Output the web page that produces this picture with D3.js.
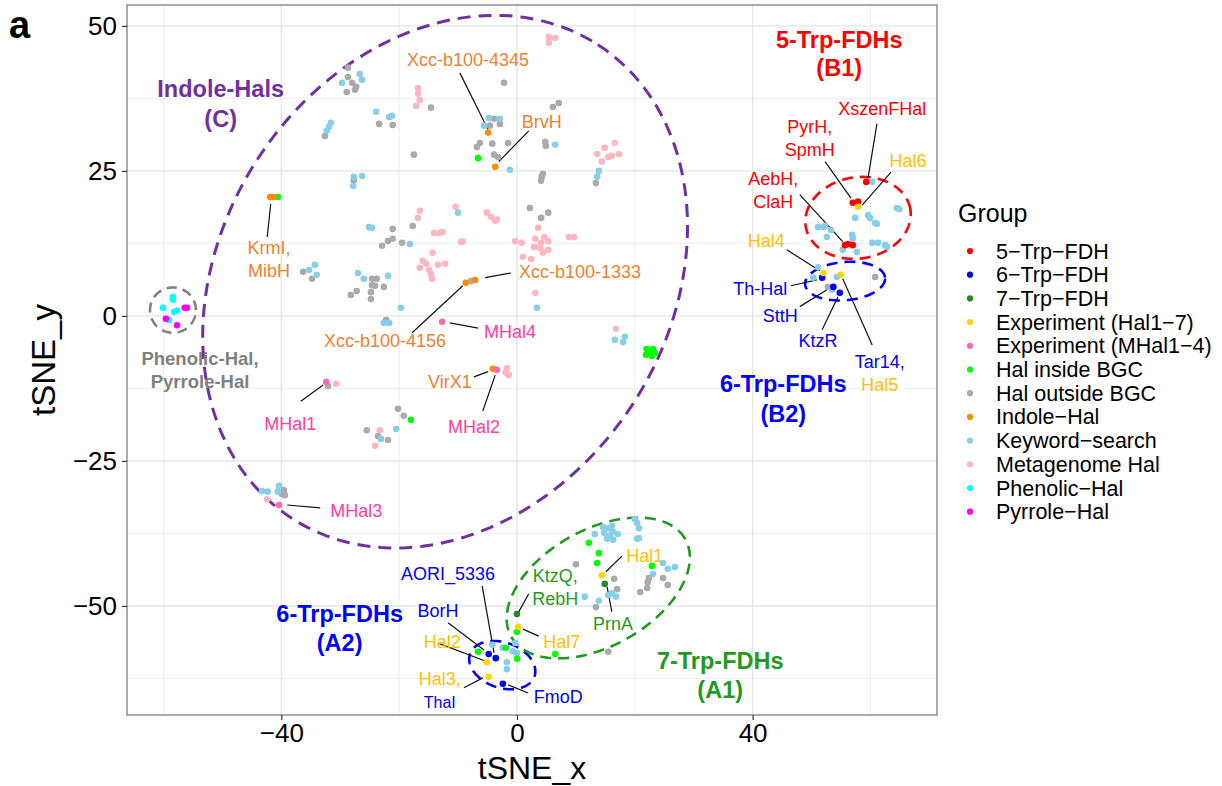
<!DOCTYPE html>
<html>
<head>
<meta charset="utf-8">
<script src="https://cdn.jsdelivr.net/npm/d3@7"></script>
<style>
  body { margin: 0; background: #fff; }
  svg { display: block; font-family: "Liberation Sans", Arial, sans-serif; }
</style>
</head>
<body>
<svg id="chart" width="1222" height="786"></svg>
<script>
// ---- data (tSNE coordinates) ----
const groupNames = ["5−Trp−FDH", "6−Trp−FDH", "7−Trp−FDH", "Experiment (Hal1−7)", "Experiment (MHal1−4)",
  "Hal inside BGC", "Hal outside BGC", "Indole−Hal", "Keyword−search", "Metagenome Hal", "Phenolic−Hal", "Pyrrole−Hal"];
const groupColors = ["#FF0000", "#0000FF", "#228B22", "#FFD700", "#FF69B4",
  "#00FF00", "#AAAAAA", "#FF8C00", "#87CEEB", "#FFB6C1", "#00FFFF", "#FF00FF"];

const fdh5 = [[59.3,23.1],[57.0,19.5],[57.9,19.7],[55.7,12.2],[56.2,12.4],[57.0,12.2]];
const fdh6 = [[51.8,6.6],[53.7,5.0],[54.8,4.0],[-4.8,-58.3],[-3.6,-59.0],[-2.4,-63.4]];
const fdh7 = [[0.0,-51.4],[14.9,-46.2]];
const expHal = [[57.9,18.8],[52.0,7.4],[55.0,7.1],[14.4,-44.7],[0.2,-53.6],[-5.1,-59.7],[-4.8,-62.2]];
const expMHal = [[-12.7,-1.0],[-3.4,-9.3],[-32.4,-11.4],[-40.4,-32.6]];
const halInside = [[-40.6,20.5],[-6.6,27.2],[22.0,-5.7],[23.1,-5.7],[23.4,-6.4],[22.9,-6.9],
  [21.9,-6.7],[22.4,-6.2],[-18.0,-17.9],[12.2,-39.1],[13.9,-40.9],[13.6,-42.6],[22.9,-43.1],
  [0.0,-54.5],[6.5,-58.3],[-6.6,-57.9],[-1.9,-57.2],[0.0,-59.1]];
const halOutside = [
  [-28.7,42.8],[-28.7,41.2],[-28.0,40.2],[-28.9,38.6],[-27.5,39.0],[-27.3,39.5],
  [-23.4,33.1],[-21.1,32.9],[-32.6,31.0],[-17.5,27.8],[-27.7,23.4],
  [-21.1,15.0],[-17.7,15.5],[-22.9,12.1],[-21.9,12.9],[-21.1,13.3],[-19.5,12.6],
  [-36.3,7.6],[-34.8,6.4],[-24.6,6.4],[-23.8,6.4],[-24.6,5.3],[-24.1,5.2],[-27.2,4.3],
  [-28.2,3.6],[-24.8,4.1],[-24.8,2.9],[-22.6,5.0],[-22.2,-0.7],
  [-6.8,29.1],[-6.3,29.8],[-4.2,29.7],[-1.5,29.8],[-3.9,27.8],[-3.2,27.4],
  [-3.9,34.0],[-2.9,33.1],[-4.6,32.8],[-2.2,40.2],[-14.6,35.9],[6.1,36.0],[7.1,36.7],
  [4.8,30.0],[4.9,29.3],[4.4,24.5],[4.2,24.0],[4.1,23.3],[13.4,22.9],
  [2.2,18.6],[5.3,17.8],[4.1,16.9],[-7.8,6.0],
  [-32.1,-12.1],[-20.2,-16.0],[-19.2,-17.2],[-25.5,-19.7],[-23.6,-20.7],[-21.9,-21.4],
  [-39.6,-30.0],[-39.4,-30.9],[-39.9,-30.7],
  [52.8,5.0],[60.8,6.7],
  [10.0,-42.8],[16.5,-45.3],[17.0,-47.1],[20.9,-47.6],[22.1,-46.9],[22.2,-45.9],[22.4,-45.2],
  [24.8,-45.2],[25.6,-46.4],[13.4,-50.2],[15.5,-57.9]];
const indole = [[-41.9,20.5],[-41.3,20.5],[-4.9,31.6],[-3.7,25.7],[-8.7,5.7],[-7.1,6.2],[-4.1,-9.1]];
const keyword = [
  [-29.7,40.2],[-26.7,41.7],[-26.3,40.7],[-23.9,35.2],[-21.7,34.3],[-21.2,34.5],
  [-31.6,33.3],[-31.9,32.6],[-32.3,31.9],[-4.8,34.1],[-2.9,34.0],[-5.6,32.8],[6.5,29.5],
  [-1.2,25.2],[13.9,25.0],[13.6,24.0],[-27.7,24.0],[-26.3,24.1],[-27.8,22.4],
  [-10.0,17.8],[-25.1,15.3],[-24.6,15.2],[-18.2,12.4],
  [-34.3,8.8],[-35.3,7.9],[-34.0,7.1],[-27.0,7.4],[-26.0,6.4],[-21.9,6.9],
  [-19.7,1.4],[-22.6,-1.2],[-21.7,-1.2],[3.4,1.4],[16.6,-4.1],[18.0,-4.5],[18.3,-3.6],
  [-20.5,-19.5],[-23.1,-21.2],[-43.3,-30.2],[-42.3,-30.3],[-40.4,-29.3],[-40.6,-30.3],
  [60.3,23.1],[57.4,16.9],[59.6,17.4],[59.9,16.9],[60.8,16.0],[61.1,15.9],[64.5,18.6],[64.9,18.4],
  [51.1,15.3],[52.0,15.3],[52.3,15.5],[53.3,14.8],[52.6,13.6],[56.9,14.0],[57.0,13.4],
  [55.3,11.4],[57.7,11.0],[60.3,12.6],[61.3,12.6],[62.5,12.2],[62.8,11.9],
  [51.1,8.4],[50.3,6.6],[54.3,6.7],[53.5,4.5],
  [13.2,-37.6],[14.8,-37.4],[14.6,-36.4],[15.5,-36.6],[16.1,-36.2],[16.3,-37.2],[15.8,-37.8],
  [17.1,-37.6],[15.3,-38.4],[16.3,-38.6],[20.0,-35.0],[20.4,-35.7],[20.7,-36.6],[20.7,-38.3],
  [20.4,-38.4],[24.8,-42.6],[25.6,-43.6],[26.8,-43.3],[23.1,-44.5],[16.1,-47.8],[16.8,-48.4],
  [15.5,-48.1],[13.9,-49.1],[11.5,-48.4],
  [-4.2,-56.7],[-1.7,-59.7],[-0.7,-57.8],[0.0,-58.1],[-0.3,-56.4],[-1.7,-60.9],[-2.4,-57.2]];
const metagenome = [
  [5.4,48.1],[6.5,47.9],[5.4,47.1],[-16.8,39.3],[-16.8,38.3],[-16.5,37.2],[-17.1,36.2],
  [13.6,27.9],[14.9,29.0],[16.6,29.8],[17.3,27.9],[16.1,27.6],[15.5,27.4],[14.4,26.6],
  [-16.5,18.1],[-16.8,16.9],[-10.4,18.8],[-5.1,17.8],[-4.4,17.1],[-3.4,16.6],[-3.7,16.4],
  [-14.1,14.3],[-13.2,14.3],[-12.6,14.5],[-9.2,12.8],[-9.5,12.8],
  [3.6,15.2],[-0.3,12.9],[0.8,12.6],[3.1,13.3],[4.6,13.6],[5.3,12.9],[4.1,12.6],[2.9,11.9],
  [3.9,11.7],[5.3,11.4],[4.4,10.9],[1.0,10.2],[2.4,9.8],[8.8,13.6],[9.7,13.6],
  [-14.3,10.9],[-16.0,9.5],[-15.4,9.0],[-16.5,8.3],[-14.9,7.9],[-14.6,7.2],[-14.4,6.4],
  [-13.4,8.8],[-12.2,9.0],[3.1,4.0],[16.8,-2.2],[-1.7,-9.0],[-1.4,-10.2],[-1.9,-9.7],
  [-30.7,-11.7],[-23.3,-19.7],[-24.1,-22.4],[-42.4,-31.6]];
const phenolic = [[-58.4,3.3],[-58.4,2.8],[-60.1,1.4],[-58.2,0.7],[-57.7,0.9],[-59.1,-0.7]];
const pyrrole = [[-56.4,1.4],[-56.0,1.4],[-59.6,-0.5],[-57.7,-1.6]];

const groupPoints = [fdh5, fdh6, fdh7, expHal, expMHal, halInside, halOutside, indole, keyword, metagenome, phenolic, pyrrole];
const drawOrder = [6, 9, 8, 10, 11, 5, 7, 0, 1, 2, 3, 4];

const xTicks = [-40, 0, 40];
const yTicks = [-50, -25, 0, 25, 50];

// ellipses: centre, semi axes, rotation (deg)
const ellipses = [
  { cx: -12.2, cy: 5.9, a: 48.4, b: 38.2, rot: 59, color: "#7030A0", w: 3, dash: "13,8" },
  { cx: 57.9, cy: 16.9, a: 9.0, b: 7.0, rot: 10, color: "#FF0000", w: 2.6, dash: "11,7" },
  { cx: 55.7, cy: 6.0, a: 6.8, b: 3.3, rot: 5, color: "#0000FF", w: 2.6, dash: "11,7" },
  { cx: -58.4, cy: 1.0, a: 3.9, b: 3.9, rot: 0, color: "#808080", w: 2.6, dash: "10,6" },
  { cx: -2.5, cy: -60.2, a: 5.8, b: 3.9, rot: -20, color: "#0000FF", w: 2.6, dash: "11,7" },
  { cx: 13.8, cy: -46.9, a: 17.0, b: 10.0, rot: 30, color: "#1F9A1F", w: 2.6, dash: "11,7" }
];

const orange = "#F07F2F", gold = "#FFC000", hot = "#FF40A0", red = "#FF0000", blue = "#0000FF", green = "#1F9A1F";

const pointLabels = [
  { lines: [["Xcc-b100-4345", orange]], x: -8.3, y: 43.1, seg: [-9.7, 41.9, -4.9, 32.1] },
  { lines: [["BrvH", orange]], x: 4.2, y: 32.4, seg: [2.0, 31.9, -3.1, 26.6] },
  { lines: [["KrmI,", orange], ["MibH", orange]], x: -42.1, y: 10.7, seg: [-41.8, 19.3, -42.4, 13.6] },
  { lines: [["Xcc-b100-1333", orange]], x: 10.7, y: 6.6, seg: [-5.4, 6.6, -1.0, 7.4] },
  { lines: [["Xcc-b100-4156", orange]], x: -22.4, y: -5.3, seg: [-17.8, -2.9, -9.2, 5.2] },
  { lines: [["MHal4", hot]], x: -1.2, y: -3.8, seg: [-11.4, -1.2, -6.6, -2.1] },
  { lines: [["VirX1", orange]], x: -11.4, y: -12.4, seg: [-7.3, -10.5, -4.9, -9.6] },
  { lines: [["MHal2", hot]], x: -7.3, y: -20.2, seg: [-5.8, -16.4, -3.7, -10.2] },
  { lines: [["MHal1", hot]], x: -38.5, y: -19.7, seg: [-36.7, -14.7, -32.9, -11.9] },
  { lines: [["MHal3", hot]], x: -27.3, y: -34.7, seg: [-39.0, -32.6, -33.4, -33.1] },
  { lines: [["XszenFHal", red]], x: 62.0, y: 34.7, seg: [61.1, 33.1, 59.6, 23.8] },
  { lines: [["PyrH,", red], ["SpmH", red]], x: 49.7, y: 31.6, seg: [52.3, 26.6, 56.7, 20.3] },
  { lines: [["Hal6", gold]], x: 66.4, y: 25.7, seg: [63.5, 24.8, 58.6, 19.1] },
  { lines: [["AebH,", red], ["ClaH", red]], x: 43.5, y: 22.6, seg: [48.0, 20.9, 55.3, 12.8] },
  { lines: [["Hal4", gold]], x: 42.3, y: 11.9, seg: [45.8, 11.4, 51.4, 7.8] },
  { lines: [["Th-Hal", blue]], x: 41.3, y: 3.6, seg: [46.5, 5.2, 50.9, 6.2] },
  { lines: [["SttH", blue]], x: 44.7, y: -1.0, seg: [48.0, 1.6, 53.1, 4.8] },
  { lines: [["KtzR", blue]], x: 51.1, y: -5.3, seg: [51.8, -2.4, 54.5, 3.3] },
  { lines: [["Tar14,", blue], ["Hal5", gold]], x: 61.6, y: -9.0, seg: [60.3, -5.0, 55.3, 6.4] },
  { lines: [["AORI_5336", blue]], x: -11.7, y: -45.5, seg: [-5.9, -46.6, -3.9, -58.1] },
  { lines: [["BorH", blue]], x: -13.4, y: -51.9, seg: [-11.7, -52.9, -5.6, -57.6] },
  { lines: [["Hal2", gold]], x: -12.7, y: -57.2, seg: [-13.4, -56.4, -5.4, -59.5] },
  { lines: [["Hal3,", gold], ["ThaI", blue, 16]], x: -13.1, y: -63.6, seg: [-9.0, -64.1, -5.8, -62.4] },
  { lines: [["FmoD", blue]], x: 7.0, y: -66.7, seg: [1.9, -65.0, -1.5, -63.6] },
  { lines: [["KtzQ,", green], ["RebH", green]], x: 6.5, y: -45.9, seg: [2.0, -47.9, 0.2, -51.2] },
  { lines: [["Hal7", gold]], x: 7.6, y: -57.2, seg: [3.7, -55.2, 1.0, -54.0] },
  { lines: [["Hal1", gold]], x: 21.7, y: -42.4, seg: [17.8, -41.4, 15.1, -44.1] },
  { lines: [["PrnA", green]], x: 16.3, y: -54.1, seg: [16.1, -51.0, 15.3, -46.7] }
];

const groupLabels = [
  { lines: ["Indole-Hals", "(C)"], color: "#7030A0", x: -50.3, y: 37.8, size: 23.5, lh: 30 },
  { lines: ["5-Trp-FDHs", "(B1)"], color: "#FF0000", x: 54.7, y: 46.2, size: 23.5, lh: 28 },
  { lines: ["6-Trp-FDHs", "(B2)"], color: "#0000FF", x: 45.2, y: -13.1, size: 23.5, lh: 30 },
  { lines: ["6-Trp-FDHs", "(A2)"], color: "#0000FF", x: -30.1, y: -52.8, size: 23.5, lh: 29 },
  { lines: ["7-Trp-FDHs", "(A1)"], color: "#1F9A1F", x: 34.5, y: -60.9, size: 23.5, lh: 29 },
  { lines: ["Phenolic-Hal,", "Pyrrole-Hal"], color: "#7F7F7F", x: -53.8, y: -8.4, size: 18.5, lh: 23 }
];

// ---- layout ----
const svg = d3.select("#chart");
const panel = { left: 127, top: 5, right: 937, bottom: 715 };
const x = d3.scaleLinear().domain([-66.2, 71.3]).range([panel.left, panel.right]);
const y = d3.scaleLinear().domain([-68.8, 53.6]).range([panel.bottom, panel.top]);
const minus = d => d < 0 ? "\u2212" + Math.abs(d) : "" + d;

svg.append("defs").append("clipPath").attr("id", "clip")
  .append("rect").attr("x", panel.left).attr("y", panel.top)
  .attr("width", panel.right - panel.left).attr("height", panel.bottom - panel.top);

svg.append("rect").attr("x", panel.left).attr("y", panel.top)
  .attr("width", panel.right - panel.left).attr("height", panel.bottom - panel.top)
  .attr("fill", "#fff");

// grid
const xMinor = [-60, -20, 20, 60], yMinor = [-62.5, -37.5, -12.5, 12.5, 37.5];
const grid = svg.append("g");
grid.selectAll(".xm").data(xMinor).enter().append("line")
  .attr("x1", d => x(d)).attr("x2", d => x(d)).attr("y1", panel.top).attr("y2", panel.bottom)
  .attr("stroke", "#EBEBEB").attr("stroke-width", 0.8);
grid.selectAll(".ym").data(yMinor).enter().append("line")
  .attr("y1", d => y(d)).attr("y2", d => y(d)).attr("x1", panel.left).attr("x2", panel.right)
  .attr("stroke", "#EBEBEB").attr("stroke-width", 0.8);
grid.selectAll(".xM").data(xTicks).enter().append("line")
  .attr("x1", d => x(d)).attr("x2", d => x(d)).attr("y1", panel.top).attr("y2", panel.bottom)
  .attr("stroke", "#E6E6E6").attr("stroke-width", 1.4);
grid.selectAll(".yM").data(yTicks).enter().append("line")
  .attr("y1", d => y(d)).attr("y2", d => y(d)).attr("x1", panel.left).attr("x2", panel.right)
  .attr("stroke", "#E6E6E6").attr("stroke-width", 1.4);

// ellipses
const line = d3.line().x(d => x(d[0])).y(d => y(d[1]));
const ellG = svg.append("g").attr("clip-path", "url(#clip)");
ellipses.forEach(e => {
  const r = e.rot * Math.PI / 180;
  const pts = d3.range(0, 361, 2).map(t => {
    const a = t * Math.PI / 180;
    const dx = e.a * Math.cos(a), dy = e.b * Math.sin(a);
    return [e.cx + dx * Math.cos(r) - dy * Math.sin(r), e.cy + dx * Math.sin(r) + dy * Math.cos(r)];
  });
  ellG.append("path").attr("d", line(pts) + "Z")
    .attr("fill", "none").attr("stroke", e.color)
    .attr("stroke-width", e.w).attr("stroke-dasharray", e.dash);
});

// leader lines
const lab = svg.append("g");
pointLabels.forEach(lb => {
  lab.append("line")
    .attr("x1", x(lb.seg[0])).attr("y1", y(lb.seg[1]))
    .attr("x2", x(lb.seg[2])).attr("y2", y(lb.seg[3]))
    .attr("stroke", "#111").attr("stroke-width", 1.2);
});

// points
const pts = svg.append("g").attr("clip-path", "url(#clip)");
drawOrder.forEach(gi => {
  pts.selectAll(null).data(groupPoints[gi]).enter().append("circle")
    .attr("cx", d => x(d[0])).attr("cy", d => y(d[1])).attr("r", 3.3)
    .attr("fill", groupColors[gi]);
});

// point labels
pointLabels.forEach(lb => {
  const t = lab.append("text").attr("text-anchor", "middle");
  lb.lines.forEach((ln, i) => {
    t.append("tspan").attr("x", x(lb.x)).attr("y", y(lb.y) + i * 23)
      .attr("fill", ln[1]).attr("font-size", ln[2] || 18).text(ln[0]);
  });
});

groupLabels.forEach(g => {
  const t = lab.append("text").attr("text-anchor", "middle")
    .attr("font-weight", "bold").attr("font-size", g.size).attr("fill", g.color);
  g.lines.forEach((s, i) => {
    t.append("tspan").attr("x", x(g.x)).attr("y", y(g.y) + i * g.lh).text(s);
  });
});

// panel border
svg.append("rect").attr("x", panel.left).attr("y", panel.top)
  .attr("width", panel.right - panel.left).attr("height", panel.bottom - panel.top)
  .attr("fill", "none").attr("stroke", "#7F7F7F").attr("stroke-width", 1.3);

// axes
const xAxis = svg.append("g").attr("transform", `translate(0,${panel.bottom})`)
  .call(d3.axisBottom(x).tickValues(xTicks).tickSize(5).tickPadding(4).tickFormat(minus));
const yAxis = svg.append("g").attr("transform", `translate(${panel.left},0)`)
  .call(d3.axisLeft(y).tickValues(yTicks).tickSize(5).tickPadding(5).tickFormat(minus));
[xAxis, yAxis].forEach(a => {
  a.select(".domain").remove();
  a.selectAll(".tick line").attr("stroke", "#333").attr("stroke-width", 1.2);
  a.selectAll(".tick text").attr("fill", "#000").attr("font-size", 26)
    .attr("font-family", "'Liberation Sans', Arial, sans-serif");
});

svg.append("text").attr("x", (panel.left + panel.right) / 2).attr("y", 779)
  .attr("text-anchor", "middle").attr("font-size", 32).attr("fill", "#000").text("tSNE_x");
svg.append("text").attr("transform", `translate(55,${(panel.top + panel.bottom) / 2}) rotate(-90)`)
  .attr("text-anchor", "middle").attr("font-size", 33).attr("fill", "#000").text("tSNE_y");

svg.append("text").attr("x", 9).attr("y", 38).attr("font-size", 38)
  .attr("font-weight", "bold").attr("fill", "#000").text("a");

// legend
const leg = svg.append("g").attr("transform", "translate(958,0)");
leg.append("text").attr("x", 0).attr("y", 222).attr("font-size", 25).attr("fill", "#000").text("Group");
const item = leg.selectAll(".item").data(groupNames).enter().append("g")
  .attr("transform", (d, i) => `translate(0,${251 + i * 23.7})`);
item.append("circle").attr("cx", 12).attr("cy", 0).attr("r", 3.1)
  .attr("fill", (d, i) => groupColors[i]);
item.append("text").attr("x", 38).attr("y", 0).attr("dy", "0.35em")
  .attr("font-size", 21.5).attr("fill", "#000").text(d => d);
</script>
</body>
</html>
